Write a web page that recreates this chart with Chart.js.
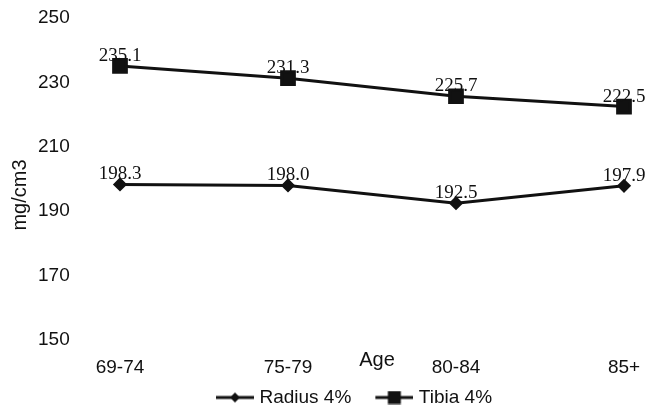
<!DOCTYPE html>
<html>
<head>
<meta charset="utf-8">
<script src="https://cdn.jsdelivr.net/npm/chart.js@4"></script>
<style>
  html, body { margin: 0; padding: 0; background: #fff; }
  #wrap { width: 652px; height: 406px; }
</style>
</head>
<body>
<div id="wrap"><canvas id="c" width="652" height="406"></canvas></div>
<script>
const categories = ['69-74', '75-79', '80-84', '85+'];
const radiusValues = [198.3, 198.0, 192.5, 197.9];
const tibiaValues = [235.1, 231.3, 225.7, 222.5];
const seriesNames = ['Radius 4%', 'Tibia 4%'];
const xTitle = 'Age';
const yTitle = 'mg/cm3';
const yMin = 150, yMax = 250, yStep = 20;

const INK = '#111';
const SANS = '"Liberation Sans", Arial, sans-serif';
const SERIF = '"Liberation Serif", "Times New Roman", serif';

// legend icon: transparent lead-in, then line with marker
function legendIcon(style) {
  const cv = document.createElement('canvas');
  cv.width = 60; cv.height = 14;
  const g = cv.getContext('2d');
  g.strokeStyle = INK; g.lineWidth = 3;
  g.beginPath(); g.moveTo(22, 7); g.lineTo(60, 7); g.stroke();
  g.fillStyle = INK;
  if (style === 'rect') {
    g.fillRect(41 - 6.5, 7 - 6.5, 13, 13);
  } else {
    g.beginPath(); g.moveTo(41, 2); g.lineTo(46, 7); g.lineTo(41, 12); g.lineTo(36, 7); g.closePath(); g.fill();
  }
  return cv;
}
const icons = [legendIcon('rectRot'), legendIcon('rect')];

const valueLabels = {
  id: 'valueLabels',
  afterDatasetsDraw(chart) {
    const ctx = chart.ctx;
    ctx.save();
    ctx.font = '19px ' + SERIF;
    ctx.fillStyle = INK;
    ctx.textAlign = 'center';
    ctx.textBaseline = 'alphabetic';
    chart.data.datasets.forEach((ds, di) => {
      const meta = chart.getDatasetMeta(di);
      meta.data.forEach((pt, i) => {
        ctx.fillText(ds.data[i].toFixed(1), pt.x, pt.y - 5);
      });
    });
    ctx.restore();
  }
};

const axisTitles = {
  id: 'axisTitles',
  afterDraw(chart) {
    const ctx = chart.ctx;
    const area = chart.chartArea;
    ctx.save();
    ctx.fillStyle = INK;
    ctx.textAlign = 'center';
    ctx.textBaseline = 'alphabetic';
    ctx.font = '20px ' + SANS;
    ctx.fillText(xTitle, (area.left + area.right) / 2 + 5, area.bottom + 26);
    ctx.translate(20, (area.top + area.bottom) / 2 + 16);
    ctx.rotate(-Math.PI / 2);
    ctx.textBaseline = 'middle';
    ctx.font = '20px ' + SANS;
    ctx.fillText(yTitle, 0, 0);
    ctx.restore();
  }
};

new Chart(document.getElementById('c'), {
  type: 'line',
  data: {
    labels: categories,
    datasets: [
      {
        label: seriesNames[0], data: radiusValues,
        borderColor: INK, backgroundColor: INK, borderWidth: 3,
        pointStyle: 'rectRot', pointRadius: 5, pointHoverRadius: 5,
        tension: 0, clip: false
      },
      {
        label: seriesNames[1], data: tibiaValues,
        borderColor: INK, backgroundColor: INK, borderWidth: 3,
        pointStyle: 'rect', pointRadius: 9, pointHoverRadius: 9,
        tension: 0, clip: false
      }
    ]
  },
  options: {
    responsive: false,
    animation: false,
    events: [],
    layout: { padding: { top: 18, right: 0, left: 38, bottom: -11 } },
    scales: {
      x: {
        offset: false,
        grid: { display: false, drawTicks: false },
        border: { display: false },
        ticks: { color: INK, font: { family: SANS, size: 19, lineHeight: 0.3 }, padding: 25, maxRotation: 0, autoSkip: false },
        afterFit(scale) { scale.paddingRight = 28; scale.paddingLeft = 0; scale.height = 42; }
      },
      y: {
        min: yMin, max: yMax,
        grid: { display: false, drawTicks: false },
        border: { display: false },
        ticks: { stepSize: yStep, color: INK, font: { family: SANS, size: 19 }, padding: 0, crossAlign: 'far' },
        afterFit(scale) { scale.width = 82; }
      }
    },
    plugins: {
      tooltip: { enabled: false },
      legend: {
        position: 'bottom',
        labels: {
          color: INK,
          font: { family: SANS, size: 19 },
          usePointStyle: true,
          pointStyleWidth: 52,
          padding: 6,
          generateLabels(chart) {
            return chart.data.datasets.map((ds, i) => ({
              text: ds.label, pointStyle: icons[i], fillStyle: INK, strokeStyle: INK,
              lineWidth: 0, datasetIndex: i, hidden: false, fontColor: INK
            }));
          }
        }
      }
    }
  },
  plugins: [valueLabels, axisTitles]
});
</script>
</body>
</html>
